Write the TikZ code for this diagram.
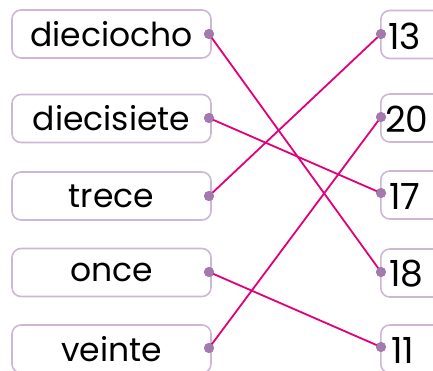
\documentclass[tikz,border=0pt]{standalone}
\usepackage{fontspec}
\setmainfont{Poppins}
\definecolor{boxc}{HTML}{CDB6D6}
\definecolor{dotc}{HTML}{A47AAE}
\definecolor{linec}{HTML}{E2007A}
\tikzset{
  lbox/.style={draw=boxc, line width=1.6pt, rounded corners=9pt, minimum width=199pt, minimum height=48pt, inner sep=0pt, font=\fontsize{33}{33}\selectfont},
  rbox/.style={draw=boxc, line width=1.6pt, rounded corners=9pt, minimum width=80pt, minimum height=48pt, inner sep=0pt, anchor=west},
  rtext/.style={anchor=west, inner sep=0pt, font=\fontsize{36}{36}\selectfont},
  dot/.style={circle, fill=dotc, minimum size=10pt, inner sep=0pt},
  link/.style={draw=linec, line width=1.8pt}
}
\begin{document}
\begin{tikzpicture}[x=1pt,y=-1pt]
\useasboundingbox (0,0) rectangle (433,370);
\clip (0,0) rectangle (433,370);
% left boxes
\node[lbox] (l1) at (111.5,34) {dieciocho};
\node[lbox] (l2) at (111.5,118.5) {diecisiete};
\node[lbox] (l3) at (111.5,196) {trece};
\node[lbox] (l4) at (111.5,272.5) {once};
\node[lbox] (l5) at (111.5,349) {veinte};
% right boxes
\node[rbox] (r1) at (380,34.5) {};
\node[rbox] (r2) at (380,118) {};
\node[rbox] (r3) at (380,195) {};
\node[rbox] (r4) at (380,273) {};
\node[rbox] (r5) at (380,349) {};
\node[rtext] (t1) at (388,36) {13};
\node[rtext] (t2) at (385,119) {20};
\node[rtext] (t3) at (389,196) {17};
\node[rtext] (t4) at (389,274) {18};
\node[rtext] (t5) at (391,350) {11};
% dots
\node[dot] (a1) at (209,34) {};
\node[dot] (a2) at (209,118) {};
\node[dot] (a3) at (209,196) {};
\node[dot] (a4) at (209,272) {};
\node[dot] (a5) at (209,348) {};
\node[dot] (b1) at (381,34) {};
\node[dot] (b2) at (381,117) {};
\node[dot] (b3) at (381,193) {};
\node[dot] (b4) at (381,272) {};
\node[dot] (b5) at (381,347) {};
% links
\draw[link] (a1.center) -- (b4.center);
\draw[link] (a2.center) -- (b3.center);
\draw[link] (a3.center) -- (b1.center);
\draw[link] (a4.center) -- (b5.center);
\draw[link] (a5.center) -- (b2.center);
% redraw dots on top
\foreach \n in {a1,a2,a3,a4,a5,b1,b2,b3,b4,b5} {\fill[dotc] (\n.center) circle (5pt);}
\end{tikzpicture}
\end{document}
